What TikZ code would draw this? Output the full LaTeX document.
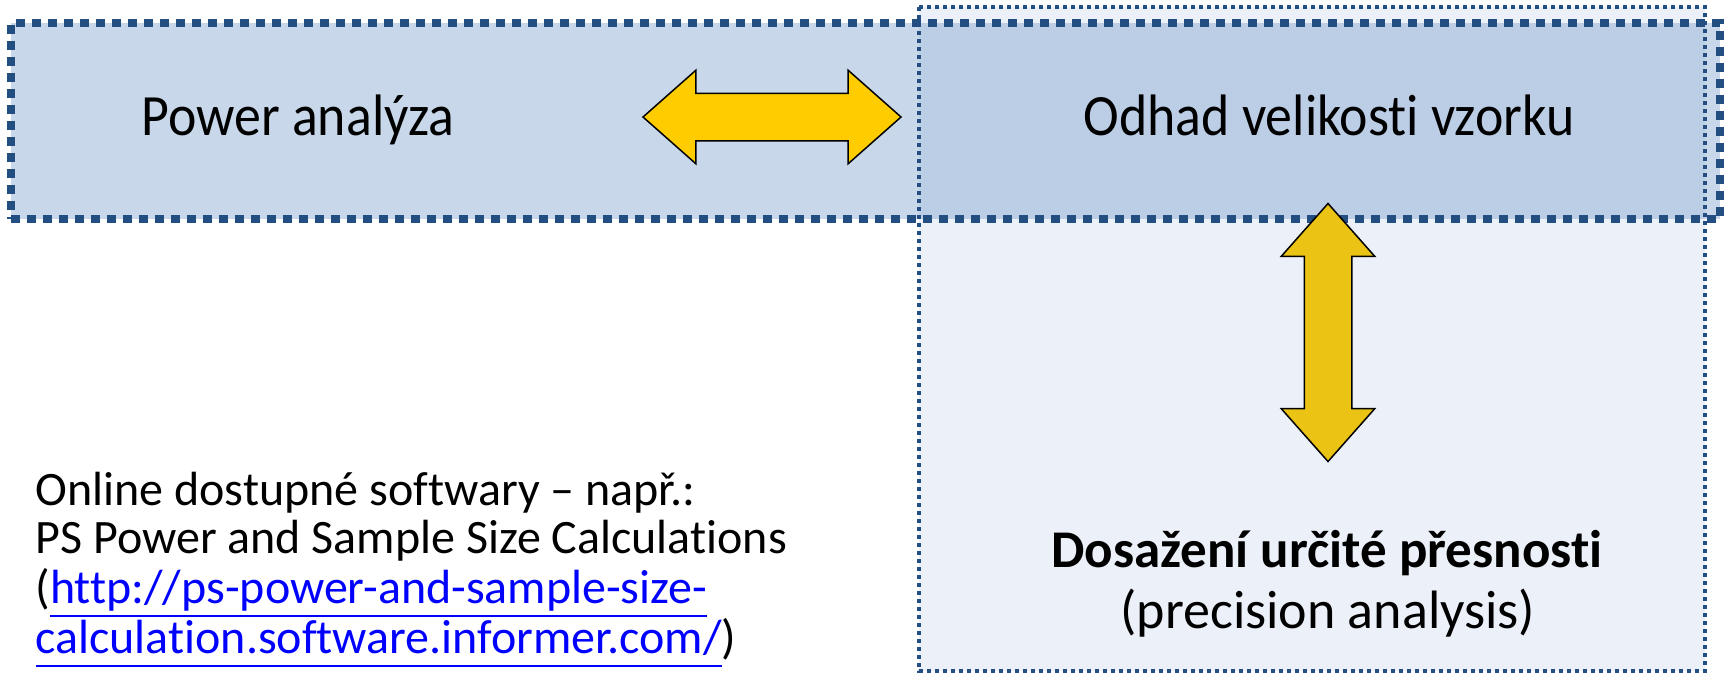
\documentclass[tikz,border=0pt]{standalone}
\usepackage{fontspec}
\setmainfont[Ligatures=NoCommon]{Carlito}
\newfontfamily\tallfont[FakeStretch=0.92, Ligatures=NoCommon]{Carlito}
\usetikzlibrary{shapes.arrows}

\definecolor{boxline}{RGB}{35,78,130}
\definecolor{boxfill}{RGB}{117,155,202}
\definecolor{precfill}{RGB}{236,240,248}
\definecolor{arrowgold}{RGB}{255,204,0}
\definecolor{arrowochre}{RGB}{235,195,20}
\definecolor{linkblue}{RGB}{0,0,255}

\newcommand{\linkline}[1]{\leavevmode\setbox0\hbox{#1}\rlap{\rule[-14pt]{\wd0}{2pt}}\box0}

\begin{document}
\begin{tikzpicture}[x=1pt, y=-1pt,
    widebox/.style={draw=boxline, line width=8pt, dash pattern=on 9pt off 7pt,
        fill=boxfill, fill opacity=0.4, draw opacity=1, outer sep=0pt},
    dotline/.style={draw=boxline, line width=4pt, dash pattern=on 4pt off 4pt},
    bigtext/.style={font=\tallfont\fontsize{58.5}{60}\selectfont, anchor=base},
    softtext/.style={font=\fontsize{48}{50}\selectfont, anchor=base west},
    twohead/.style={shape=double arrow, draw=black, line width=1.5pt,
        inner xsep=0pt, inner ysep=23pt, minimum height=258pt,
        double arrow head extend=23pt, double arrow tip angle=83}]
    \useasboundingbox (0,0) rectangle (1727,673);

    % Precision box (behind)
    \node[fill=precfill, outer sep=0pt, inner sep=0pt,
          minimum width=786pt, minimum height=664pt] (precbox) at (1312,339) {};

    % Wide box: power analysis
    \node[widebox, inner sep=0pt, minimum width=1709pt, minimum height=196pt] (widebox) at (865.5,121) {};
    \draw[dotline] (precbox.north west) rectangle (precbox.south east);

    % Texts
    \node[bigtext] (power) at (298,135) {Power analýza};
    \node[bigtext] (odhad) at (1329,135) {Odhad velikosti vzorku};
    \node[bigtext, font=\fontsize{53}{60}\selectfont\bfseries] (presnost) at (1327,567) {Dosažení určité přesnosti};
    \node[bigtext, font=\fontsize{54}{60}\selectfont] (precision) at (1328,628) {(precision analysis)};

    % Arrows
    \node[twohead, fill=arrowgold] (harrow) at (772,117) {};
    \node[twohead, fill=arrowochre, rotate=90] (varrow) at (1328,332.5) {};

    % Software
    \node[softtext] (online) at (32,505) {Online dostupné softwary – např.:};
    \node[softtext] (ps) at (32,553) {PS Power and Sample Size Calculations};
    \node[softtext] (link1) at (32,603) {(\textcolor{linkblue}{\linkline{http://ps-power-and-sample-size-}}};
    \node[softtext] (link2) at (32,653) {\textcolor{linkblue}{\linkline{calculation.software.informer.com/}})};
\end{tikzpicture}
\end{document}
